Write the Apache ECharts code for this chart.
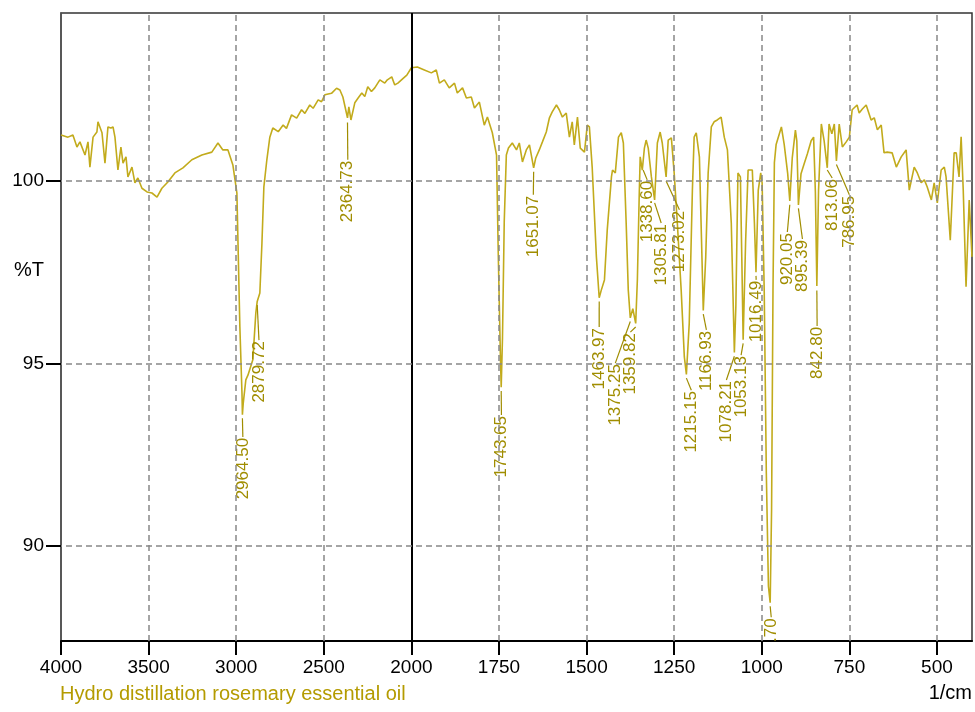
<!DOCTYPE html>
<html>
<head>
<meta charset="utf-8">
<script src="https://cdn.jsdelivr.net/npm/echarts@6.0.0/dist/echarts.min.js"></script>
<style>
  html, body { margin: 0; padding: 0; background: #fff; }
  #ftir { width: 975px; height: 712px; }
</style>
</head>
<body>
<div id="ftir"></div>
<script>
// wavenumber (1/cm) and transmittance (%T)
var wavenumber = [
  4000, 3960, 3932, 3909, 3892, 3863, 3846, 3835, 3817, 3795, 3789, 3766, 3749, 3732, 3715, 3703,
  3692, 3675, 3658, 3646, 3629, 3618, 3595, 3578, 3561, 3538, 3509, 3481, 3452, 3424, 3390, 3350,
  3304, 3253, 3196, 3139, 3104, 3076, 3047, 3019, 2996, 2979, 2967, 2964.5, 2960, 2945, 2933, 2905,
  2888, 2880, 2865, 2853, 2842, 2825, 2808, 2791, 2760, 2732, 2713, 2684, 2655, 2627, 2608, 2580,
  2561, 2532, 2513, 2494, 2456, 2427, 2408, 2391, 2364.7, 2357, 2345, 2323, 2304, 2283, 2266, 2249,
  2228, 2209, 2180, 2152, 2137, 2112, 2095, 2077, 2047, 2026, 2000,
  1983, 1963, 1943, 1929, 1920, 1906, 1892, 1877, 1869, 1854, 1843, 1829, 1820, 1806, 1792, 1783,
  1769, 1757, 1752, 1746, 1743.65, 1740, 1735, 1729, 1723, 1712, 1700, 1692, 1683, 1672, 1663, 1651.07,
  1645, 1635, 1626, 1615, 1606, 1598, 1586, 1578, 1569, 1558, 1549, 1541, 1535, 1526, 1518, 1506,
  1498, 1492, 1484, 1472, 1463.97, 1458, 1449, 1441, 1429, 1426, 1418, 1409, 1401, 1395, 1387, 1381,
  1375.25, 1368, 1359.82, 1355, 1350, 1347, 1341, 1335, 1330, 1324, 1315, 1305.81, 1298, 1290, 1284, 1273.02,
  1267, 1258, 1250, 1241, 1230, 1221, 1215.15, 1207, 1198, 1193, 1187, 1178, 1172, 1166.93, 1160, 1153,
  1144, 1136, 1127, 1116, 1107, 1098, 1087, 1078.21, 1074, 1068, 1061, 1057, 1053.13, 1046, 1039, 1027,
  1021, 1016.49, 1010, 1003, 999, 993, 987, 981, 976, 972, 968, 964, 959, 944, 936, 926,
  920.05, 913, 904, 900, 895.39, 888, 879, 870, 859, 852, 847, 842.8, 838, 830, 822, 813.06,
  808, 800, 793, 786.95, 779, 770, 759, 750, 742, 728, 722, 713, 702, 688, 679, 670,
  659, 651, 642, 628, 616, 602, 588, 579, 565, 556, 545, 536, 528, 516, 508, 499,
  488, 479, 474, 462, 451, 445, 437, 431, 425, 417, 408, 400
];
var transmittance = [
  101.26, 101.2, 101.26, 100.93, 101.07, 100.71, 101.07, 100.38, 101.2, 101.34, 101.62, 101.32, 100.49, 101.48, 101.45, 101.48,
  101.2, 100.3, 100.93, 100.49, 100.66, 100.11, 100.38, 99.95, 100.08, 99.8, 99.7, 99.67, 99.56, 99.8, 99.97, 100.22,
  100.36, 100.58, 100.71, 100.79, 101.04, 100.85, 100.85, 100.44, 99.67, 96.0, 94.19, 93.6, 93.9, 94.55, 94.68, 95.1,
  96.38, 96.7, 96.93, 98.3, 99.84, 100.58, 101.2, 101.45, 101.35, 101.53, 101.44, 101.81, 101.72, 101.95, 101.85, 102.08,
  101.99, 102.22, 102.17, 102.36, 102.4, 102.54, 102.49, 102.3, 101.73, 102.03, 101.67, 102.14, 102.27, 102.41, 102.31, 102.58,
  102.45, 102.55, 102.77, 102.68, 102.77, 102.85, 102.63, 102.68, 102.81, 102.9, 103.1,
  103.12, 103.04, 102.96, 103.04, 102.68, 102.77, 102.55, 102.68, 102.41, 102.55, 102.27, 102.3, 102.0, 102.16, 101.53, 101.75,
  101.32, 100.71, 97.97, 95.23, 94.35, 95.7, 98.88, 100.71, 100.9, 101.04, 100.85, 101.04, 100.52, 100.85, 100.99, 100.36,
  100.63, 100.85, 101.07, 101.34, 101.73, 101.89, 102.08, 101.95, 101.75, 101.86, 101.2, 101.62, 100.99, 101.75, 100.9, 100.79,
  101.53, 101.48, 100.38, 97.92, 96.8, 97.01, 97.29, 98.66, 100.11, 100.3, 100.22, 101.2, 101.32, 101.04, 98.85, 97.01,
  96.25, 96.5, 96.1, 97.3, 99.5, 100.66, 100.3, 100.9, 101.12, 100.9, 100.11, 99.48, 101.04, 101.34, 101.04, 100.11,
  101.12, 101.18, 100.22, 98.85, 97.01, 95.18, 94.7, 96.1, 99.75, 101.2, 101.32, 100.66, 98.4, 96.45, 97.9, 100.22,
  101.48, 101.62, 101.67, 101.75, 101.2, 100.85, 98.85, 95.3, 96.55, 100.22, 100.11, 97.9, 95.65, 98.38, 100.3, 100.3,
  98.85, 97.5, 99.75, 100.22, 99.95, 97.0, 92.0, 88.9, 88.45, 91.0, 97.0, 100.5, 101.0, 101.48, 101.0, 100.2,
  99.45, 100.63, 101.39, 101.1, 99.34, 100.2, 100.47, 100.74, 101.1, 101.2, 99.7, 97.12, 99.73, 101.56, 101.1, 100.36,
  101.56, 101.29, 101.56, 100.55, 101.56, 100.93, 101.07, 101.2, 101.95, 102.08, 101.86, 101.97, 102.08, 101.67, 101.73, 101.4,
  101.53, 100.77, 100.79, 100.77, 100.38, 100.66, 100.85, 99.75, 100.38, 100.22, 99.95, 100.03, 99.84, 99.48, 99.95, 99.4,
  100.3, 100.38, 100.11, 98.38, 100.77, 100.77, 100.11, 101.21, 99.75, 97.1, 99.48, 97.92
];

// peak annotations: leader starts at the peak, label sits at its own position
var peakLabels = ['2964.50', '2879.72', '2364.73', '1743.65', '1651.07', '1463.97', '1375.25', '1359.82',
  '1338.60', '1305.81', '1273.02', '1215.15', '1166.93', '1078.21', '1053.13', '1016.49', '.70',
  '920.05', '895.39', '842.80', '813.06', '786.95'];
var peakWn = [2964.5, 2880, 2364.7, 1743.65, 1651.07, 1463.97, 1375.25, 1359.82, 1338.6, 1305.81,
  1273.02, 1215.15, 1166.93, 1078.21, 1053.13, 1016.49, 976, 920.05, 895.39, 842.8, 813.06, 786.95];
var peakT = [93.5, 96.6, 101.6, 94.25, 100.25, 96.7, 96.15, 96.0, 100.3, 99.4, 100.0, 94.6, 96.35,
  95.2, 95.55, 97.4, 88.35, 99.35, 99.25, 97.0, 100.3, 100.45];
var labelWn = [2962, 2870, 2363, 1743, 1652, 1464, 1418, 1375, 1327, 1287, 1235, 1201, 1158, 1101,
  1059, 1016, 973, 927, 884, 842, 799, 750];
var labelTopT = [92.99, 95.64, 100.58, 93.59, 99.62, 96.0, 95.01, 95.86, 100.03, 98.85, 99.21, 94.27,
  95.92, 94.55, 95.23, 97.29, 88.05, 98.6, 98.41, 96.03, 100.08, 99.62];

var xTicks = [4000, 3500, 3000, 2500, 2000, 1750, 1500, 1250, 1000, 750, 500];
var yTicks = [90, 95, 100];

// the instrument plots 4000-2000 at half the scale of 2000-400
function toP(w) { return w > 2000 ? 2000 + (w - 2000) / 2 : w; }
function fromP(p) { return p > 2000 ? 2000 + (p - 2000) * 2 : p; }

var traceColor = '#c2ab1c';
var labelColor = '#a08d00';
var fontFam = '"Liberation Sans", Arial, sans-serif';

var spectrum = wavenumber.map(function (w, i) { return [toP(w), transmittance[i]]; });
var peaks = peakWn.map(function (w, i) {
  return [toP(w), peakT[i], toP(labelWn[i]), labelTopT[i]];
});
var xTickP = xTicks.map(toP);

var gridLines = [];
xTicks.forEach(function (w) {
  if (w === 4000) return;
  if (w === 2000) {
    gridLines.push({xAxis: toP(w), lineStyle: {type: 'solid', color: '#000', width: 2}});
  } else {
    gridLines.push({xAxis: toP(w)});
  }
});
yTicks.forEach(function (v) { gridLines.push({yAxis: v}); });

var chart = echarts.init(document.getElementById('ftir'));
var option = {
  animation: false,
  grid: {
    left: 61, right: 3, top: 13, bottom: 71,
    show: true, borderColor: '#333', borderWidth: 1.5
  },
  xAxis: {
    type: 'value',
    min: 400, max: 3000,
    inverse: true,
    axisLine: {show: true, lineStyle: {color: '#000', width: 2}},
    axisTick: {show: true, customValues: xTickP, length: 14, lineStyle: {color: '#000', width: 2}},
    axisLabel: {
      customValues: xTickP, margin: 17, color: '#000',
      fontFamily: fontFam, fontSize: 19,
      formatter: function (p) { return String(Math.round(fromP(p))); }
    },
    splitLine: {show: false}
  },
  yAxis: {
    type: 'value',
    min: 87.4, max: 104.6,
    axisLine: {show: true, lineStyle: {color: '#555', width: 1.5}},
    axisTick: {show: true, customValues: yTicks, length: 15, lineStyle: {color: '#000', width: 2}},
    axisLabel: {customValues: yTicks, margin: 17, color: '#000', fontFamily: fontFam, fontSize: 19},
    splitLine: {show: false}
  },
  graphic: [
    {type: 'text', left: 14, top: 260, style: {text: '%T', fill: '#000', font: '20px ' + fontFam}},
    {type: 'text', left: 60, top: 684, style: {text: 'Hydro distillation rosemary essential oil', fill: '#b49b00', font: '20px ' + fontFam}},
    {type: 'text', right: 3, top: 683, style: {text: '1/cm', fill: '#000', font: '20px ' + fontFam}}
  ],
  series: [
    {
      name: 'Hydro distillation rosemary essential oil',
      type: 'line',
      data: spectrum,
      showSymbol: false,
      lineStyle: {color: traceColor, width: 1.6},
      z: 3,
      markLine: {
        silent: true,
        symbol: ['none', 'none'],
        label: {show: false},
        lineStyle: {type: [6, 4], color: '#888', width: 1.5},
        data: gridLines
      }
    },
    {
      name: 'peaks',
      type: 'custom',
      data: peaks,
      z: 4,
      renderItem: function (params, api) {
        var a = api.coord([api.value(0), api.value(1)]);
        var b = api.coord([api.value(2), api.value(3)]);
        return {
          type: 'group',
          children: [
            {type: 'line', shape: {x1: a[0], y1: a[1], x2: b[0], y2: b[1]}, style: {stroke: labelColor, lineWidth: 1.2}},
            {
              type: 'text', x: b[0], y: b[1] + 1, rotation: Math.PI / 2,
              style: {text: peakLabels[params.dataIndex], fill: labelColor, font: '17px ' + fontFam, align: 'right', verticalAlign: 'middle'}
            }
          ]
        };
      }
    }
  ]
};
chart.setOption(option);
</script>
</body>
</html>
